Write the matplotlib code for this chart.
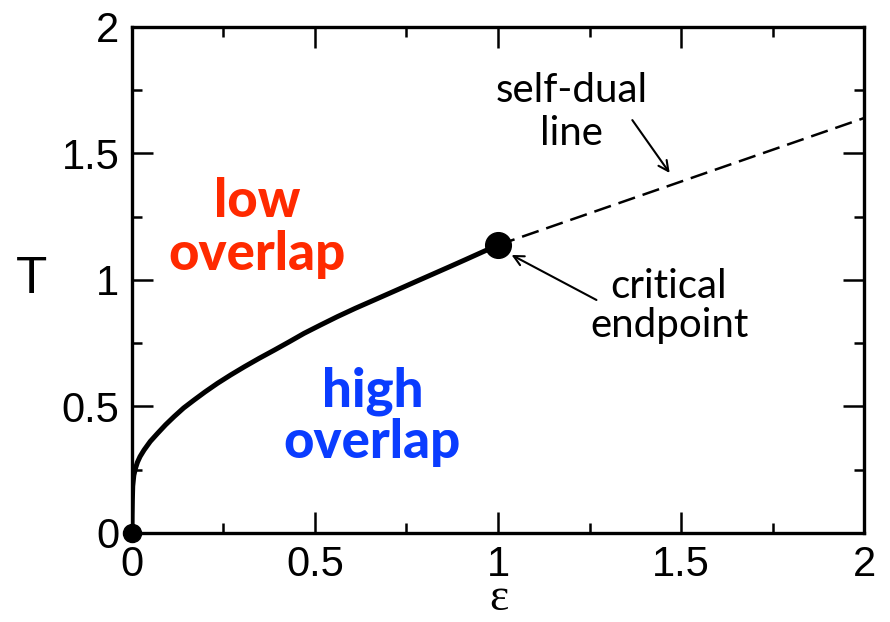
import matplotlib
matplotlib.use("Agg")
import matplotlib.pyplot as plt
from matplotlib.ticker import MultipleLocator

# Phase boundary (solid) from the origin to the critical endpoint
eps_boundary = [0.0, 0.0003, 0.001, 0.002, 0.005, 0.010, 0.015, 0.022, 0.033, 0.050,
                0.070, 0.092, 0.115, 0.141, 0.17, 0.20, 0.234, 0.27, 0.307, 0.347,
                0.389, 0.43, 0.47, 0.515, 0.561, 0.61, 0.662, 0.72, 0.776, 0.82,
                0.867, 0.912, 0.958, 1.0]
T_boundary = [0.0, 0.07, 0.13, 0.185, 0.228, 0.258, 0.28, 0.302, 0.328, 0.362,
              0.394, 0.428, 0.46, 0.494, 0.526, 0.558, 0.592, 0.625, 0.657, 0.69,
              0.723, 0.756, 0.789, 0.822, 0.855, 0.888, 0.921, 0.958, 0.994, 1.022,
              1.052, 1.081, 1.111, 1.138]

# Self-dual line (dashed) beyond the critical endpoint
eps_selfdual = [1.0, 2.0]
T_selfdual = [1.138, 1.64]

# Special points
origin_pt = (0.0, 0.0)
endpoint_pt = (1.0, 1.138)

tick_vals = [0, 0.5, 1, 1.5, 2]
tick_labels = ["0", "0.5", "1", "1.5", "2"]

fig = plt.figure(figsize=(8.9, 6.22), dpi=100)
ax = fig.add_axes([0.1483, 0.1431, 0.8225, 0.8135])

ax.plot(eps_boundary, T_boundary, color="black", lw=3.6, solid_capstyle="round",
        solid_joinstyle="round", zorder=3)
ax.plot(eps_selfdual, T_selfdual, color="black", lw=1.8, dashes=(7, 3.2), zorder=3)
ax.plot(*endpoint_pt, "o", color="black", ms=18.5, zorder=4, clip_on=False)
ax.plot(*origin_pt, "o", color="black", ms=13, zorder=4, clip_on=False)

ax.set_xlim(0, 2)
ax.set_ylim(0, 2)
ax.set_xticks(tick_vals)
ax.set_xticklabels(tick_labels)
ax.set_yticks(tick_vals)
ax.set_yticklabels(tick_labels)
ax.xaxis.set_minor_locator(MultipleLocator(0.25))
ax.yaxis.set_minor_locator(MultipleLocator(0.25))

for s in ax.spines.values():
    s.set_linewidth(2.4)
ax.tick_params(which="both", direction="in", top=True, right=True, width=1.8)
ax.tick_params(which="major", length=15, labelsize=30, pad=9)
ax.tick_params(which="minor", length=7.5)
for lab in ax.get_xticklabels() + ax.get_yticklabels():
    lab.set_fontfamily("Liberation Sans")

ax.set_xlabel("ε", fontsize=33, family="Liberation Serif", va="bottom", ha="center")
ax.xaxis.set_label_coords(0.501, -0.172)
ax.set_ylabel("T", fontsize=37, family="Liberation Sans", rotation=0,
              va="center", ha="center")
ax.yaxis.set_label_coords(-0.1366, 0.5)

ann_font = dict(family="Lato", fontsize=29, ha="center", va="baseline")
ax.text(1.202, 1.704, "self-dual", **ann_font)
ax.text(1.202, 1.534, "line", **ann_font)
ax.text(1.466, 0.929, "critical", **ann_font)
ax.text(1.469, 0.775, "endpoint", **ann_font)

region_font = dict(family="Lato", fontsize=38, fontweight=900, ha="center", va="baseline")
red = "#ff2a00"
blue = "#0a3cff"
ax.text(0.342, 1.249, "low", color=red, **region_font)
ax.text(0.342, 1.040, "overlap", color=red, **region_font)
ax.text(0.657, 0.498, "high", color=blue, **region_font)
ax.text(0.657, 0.296, "overlap", color=blue, **region_font)

arrow = dict(arrowstyle="->", color="black", lw=1.5, mutation_scale=18, shrinkA=0, shrinkB=0)
ax.annotate("", xy=(1.469, 1.423), xytext=(1.367, 1.632), arrowprops=arrow)
ax.annotate("", xy=(1.037, 1.099), xytext=(1.269, 0.921), arrowprops=arrow)

fig.savefig("out.png", dpi=100)
